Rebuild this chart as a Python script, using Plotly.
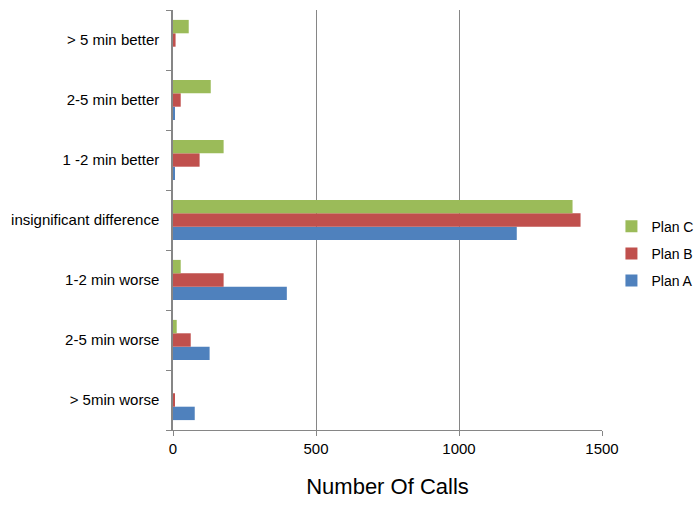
import plotly.graph_objects as go

categories = ["> 5min worse", "2-5 min worse", "1-2 min worse", "insignificant difference",
              "1 -2 min better", "2-5 min better", "> 5 min better"]
plan_a = [76, 128, 398, 1202, 5, 5, 0]
plan_b = [5, 62, 177, 1425, 93, 27, 9]
plan_c = [0, 13, 27, 1397, 177, 132, 55]

colors = {"Plan A": "#4F81BD", "Plan B": "#C0504D", "Plan C": "#9BBB59"}
ranks = {"Plan A": 3, "Plan B": 2, "Plan C": 1}

fig = go.Figure()
for name, vals in [("Plan A", plan_a), ("Plan B", plan_b), ("Plan C", plan_c)]:
    fig.add_trace(go.Bar(y=categories, x=vals, name=name, orientation="h",
                         marker=dict(color=colors[name], line=dict(width=0)),
                         legendgroup=name, legendrank=ranks[name]))

font = "Liberation Sans, Arial, sans-serif"
fig.update_layout(
    width=698, height=510,
    margin=dict(l=173, r=96, t=10, b=80, autoexpand=False),
    paper_bgcolor="white", plot_bgcolor="white",
    barmode="group", bargap=0.33, bargroupgap=0,
    font=dict(family=font, size=14, color="black"),
    legend=dict(x=1.022, xanchor="left", y=0.42, yanchor="middle",
                traceorder="grouped", tracegroupgap=6, itemwidth=30,
                font=dict(size=14)),
    xaxis=dict(range=[0, 1500], tickvals=[0, 500, 1000, 1500],
               showgrid=True, gridcolor="#868686", gridwidth=1,
               zeroline=False, showline=True, linecolor="#868686", linewidth=1,
               ticks="outside", ticklen=5, tickcolor="#868686",
               tickfont=dict(size=15),
               title=dict(text="Number Of Calls", font=dict(size=22), standoff=22)),
    yaxis=dict(showgrid=False, zeroline=False, showline=True, linecolor="#868686",
               linewidth=1.5, ticks="outside", ticklen=5, tickcolor="#868686",
               tickson="boundaries", tickfont=dict(size=15), ticklabelstandoff=9),
)

fig.write_html("out.html")
